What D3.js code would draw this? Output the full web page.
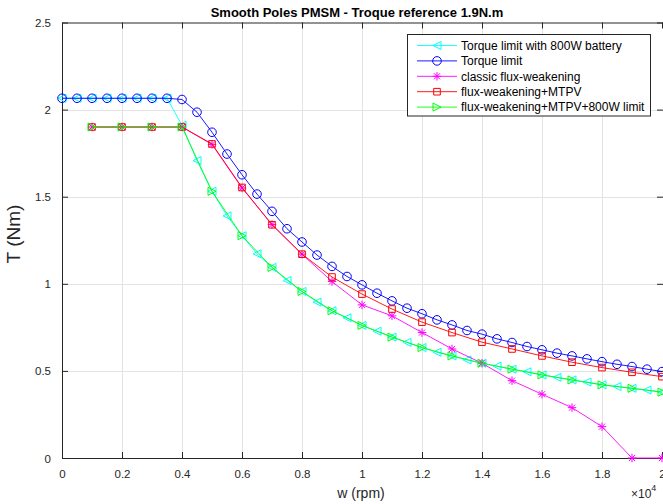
<!DOCTYPE html>
<html>
<head>
<meta charset="utf-8">
<script src="https://cdn.jsdelivr.net/npm/d3@7/dist/d3.min.js"></script>
<style>
  html, body { margin: 0; padding: 0; background: #fff; }
  svg { display: block; font-family: "Liberation Sans", Arial, Helvetica, sans-serif; }
</style>
</head>
<body>
<svg id="chart" width="663" height="504"></svg>
<script>
// Speed grids (rpm)
const speedFine = [0, 500, 1000, 1500, 2000, 2500, 3000, 3500, 4000, 4500, 5000, 5500, 6000, 6500, 7000, 7500,
  8000, 8500, 9000, 9500, 10000, 10500, 11000, 11500, 12000, 12500, 13000, 13500, 14000, 14500, 15000,
  15500, 16000, 16500, 17000, 17500, 18000, 18500, 19000, 19500, 20000];
const speedCoarse = [1000, 2000, 3000, 4000, 5000, 6000, 7000, 8000, 9000, 10000, 11000, 12000, 13000,
  14000, 15000, 16000, 17000, 18000, 19000, 20000];

// Torque (Nm) per strategy
const torqueLimit800W = [2.065, 2.065, 2.065, 2.065, 2.065, 2.065, 2.065, 2.065, 1.91, 1.707, 1.531, 1.39, 1.276,
  1.172, 1.094, 1.019, 0.956, 0.895, 0.845, 0.805, 0.761, 0.728, 0.694, 0.664, 0.634, 0.607, 0.586, 0.563,
  0.544, 0.527, 0.51, 0.495, 0.477, 0.463, 0.448, 0.436, 0.42, 0.41, 0.4, 0.39, 0.378];
const torqueLimit = [2.065, 2.065, 2.065, 2.065, 2.065, 2.065, 2.065, 2.065, 2.058, 1.985, 1.87, 1.745, 1.626,
  1.515, 1.416, 1.316, 1.24, 1.165, 1.10, 1.042, 0.994, 0.946, 0.902, 0.86, 0.828, 0.793, 0.764, 0.732,
  0.711, 0.684, 0.663, 0.64, 0.621, 0.602, 0.586, 0.569, 0.553, 0.538, 0.525, 0.51, 0.496];
const classicFW = [1.9, 1.9, 1.9, 1.9, 1.8, 1.55, 1.34, 1.17, 1.013, 0.879, 0.816, 0.72, 0.626, 0.544,
  0.444, 0.366, 0.289, 0.18, 0, 0];
const fwMTPV = [1.9, 1.9, 1.9, 1.9, 1.803, 1.553, 1.339, 1.17, 1.039, 0.941, 0.855, 0.78, 0.72, 0.665,
  0.626, 0.586, 0.55, 0.519, 0.492, 0.467];
const fwMTPV800W = [1.9, 1.9, 1.9, 1.9, 1.531, 1.276, 1.094, 0.956, 0.845, 0.761, 0.694, 0.634, 0.586,
  0.544, 0.51, 0.477, 0.448, 0.42, 0.4, 0.378];

// Axis ticks
const xTicks = [0, 2000, 4000, 6000, 8000, 10000, 12000, 14000, 16000, 18000, 20000];
const xTickLabels = ["0", "0.2", "0.4", "0.6", "0.8", "1", "1.2", "1.4", "1.6", "1.8", "2"];
const yTicks = [0, 0.5, 1, 1.5, 2, 2.5];
const yTickLabels = ["0", "0.5", "1", "1.5", "2", "2.5"];

const titleText = "Smooth Poles PMSM - Troque reference 1.9N.m";
const xLabelText = "w (rpm)";
const yLabelText = "T (Nm)";

const series = [
  { name: "Torque limit with 800W battery", x: speedFine, y: torqueLimit800W, color: "#00ffff", marker: "triLeft" },
  { name: "Torque limit", x: speedFine, y: torqueLimit, color: "#0000ff", marker: "circle" },
  { name: "classic flux-weakening", x: speedCoarse, y: classicFW, color: "#ff00ff", marker: "star" },
  { name: "flux-weakening+MTPV", x: speedCoarse, y: fwMTPV, color: "#ff0000", marker: "square" },
  { name: "flux-weakening+MTPV+800W limit", x: speedCoarse, y: fwMTPV800W, color: "#00ff00", marker: "triRight" }
];

const svg = d3.select("#chart");
const plotLeft = 62, plotRight = 662, plotTop = 22.5, plotBottom = 458;
const axisColor = "#262626";

const x = d3.scaleLinear().domain([0, 20000]).range([plotLeft, plotRight]);
const y = d3.scaleLinear().domain([0, 2.5]).range([plotBottom, plotTop]);

// Grid
const grid = svg.append("g");
grid.selectAll(".gx").data(xTicks.slice(1, -1)).join("line")
  .attr("x1", d => Math.round(x(d)) + 0.5).attr("x2", d => Math.round(x(d)) + 0.5)
  .attr("y1", plotTop).attr("y2", plotBottom)
  .attr("stroke", "#e3e3e3").attr("stroke-width", 1);
grid.selectAll(".gy").data(yTicks.slice(1, -1)).join("line")
  .attr("y1", d => Math.round(y(d)) + 0.5).attr("y2", d => Math.round(y(d)) + 0.5)
  .attr("x1", plotLeft).attr("x2", plotRight)
  .attr("stroke", "#e3e3e3").attr("stroke-width", 1);

// Axes (box with inward ticks)
const axB = svg.append("g").attr("transform", `translate(0,${plotBottom})`)
  .call(d3.axisBottom(x).tickValues(xTicks).tickSizeInner(-6).tickSizeOuter(0)
    .tickFormat((d, i) => xTickLabels[i]).tickPadding(12));
const axT = svg.append("g").attr("transform", `translate(0,${plotTop})`)
  .call(d3.axisTop(x).tickValues(xTicks).tickSizeInner(-6).tickSizeOuter(0).tickFormat(""));
const axL = svg.append("g").attr("transform", `translate(${plotLeft},0)`)
  .call(d3.axisLeft(y).tickValues(yTicks).tickSizeInner(-6).tickSizeOuter(0)
    .tickFormat((d, i) => yTickLabels[i]).tickPadding(11));
const axR = svg.append("g").attr("transform", `translate(${plotRight + 1},0)`)
  .call(d3.axisRight(y).tickValues(yTicks).tickSizeInner(-6).tickSizeOuter(0).tickFormat(""));
[axB, axT, axL, axR].forEach(g => {
  g.select(".domain").attr("stroke", axisColor);
  g.selectAll(".tick line").attr("stroke", axisColor);
  g.selectAll(".tick text").attr("fill", axisColor).style("font-size", "11.5px")
    .style("font-family", "'Liberation Sans', Arial, sans-serif");
});
axL.selectAll(".tick text").attr("dy", "0.35em");

// Marker shapes
function markerPath(type, s) {
  const h = s / 2;
  switch (type) {
    case "circle": return d3.arc()({ innerRadius: 0, outerRadius: h, startAngle: 0, endAngle: 2 * Math.PI });
    case "square": return `M${-h},${-h}H${h}V${h}H${-h}Z`;
    case "triLeft": return `M${-h},0L${h},${-h}L${h},${h}Z`;
    case "triRight": return `M${h},0L${-h},${-h}L${-h},${h}Z`;
    case "star": {
      const d = h * 0.72;
      return `M0,${-h}V${h}M${-h},0H${h}M${-d},${-d}L${d},${d}M${-d},${d}L${d},${-d}`;
    }
  }
}
const markerSize = { circle: 8.6, square: 6.6, triLeft: 8, triRight: 8, star: 8.5 };

const line = d3.line().x(d => x(d[0])).y(d => y(d[1]));

const plot = svg.append("g");
series.forEach(s => {
  const pts = s.x.map((v, i) => [v, s.y[i]]);
  const g = plot.append("g");
  g.append("path").datum(pts).attr("d", line)
    .attr("fill", "none").attr("stroke", s.color).attr("stroke-width", 0.9);
  g.selectAll("path.m").data(pts).join("path").attr("class", "m")
    .attr("transform", d => `translate(${x(d[0])},${y(d[1])})`)
    .attr("d", markerPath(s.marker, markerSize[s.marker]))
    .attr("fill", "none").attr("stroke", s.color).attr("stroke-width", 1);
});

// Title and labels
svg.append("text").attr("x", 357).attr("y", 17).attr("text-anchor", "middle")
  .style("font-size", "13px").style("font-weight", "bold").attr("fill", "#000").text(titleText);
svg.append("text").attr("x", 361).attr("y", 498).attr("text-anchor", "middle")
  .style("font-size", "14px").attr("fill", axisColor).text(xLabelText);
svg.append("text").attr("transform", "translate(20,234) rotate(-90)").attr("text-anchor", "middle")
  .style("font-size", "19px").attr("fill", axisColor).text(yLabelText);
const exp = svg.append("text").attr("x", 631).attr("y", 498).style("font-size", "12px").attr("fill", axisColor);
exp.append("tspan").text("\u00d710");
exp.append("tspan").attr("dy", -7).style("font-size", "9px").text("4");

// Legend
const lg = svg.append("g");
lg.append("rect").attr("x", 407.5).attr("y", 34.5).attr("width", 243).attr("height", 81.5)
  .attr("fill", "#fff").attr("stroke", axisColor).attr("stroke-width", 1);
series.forEach((s, i) => {
  const cy = 45.5 + i * 15.4;
  lg.append("line").attr("x1", 417).attr("x2", 457).attr("y1", cy).attr("y2", cy)
    .attr("stroke", s.color).attr("stroke-width", 0.9);
  lg.append("path").attr("transform", `translate(437,${cy})`)
    .attr("d", markerPath(s.marker, markerSize[s.marker]))
    .attr("fill", "none").attr("stroke", s.color).attr("stroke-width", 1);
  lg.append("text").attr("x", 461).attr("y", cy).attr("dy", "0.36em")
    .style("font-size", "12px").attr("fill", "#000").text(s.name);
});
</script>
</body>
</html>
